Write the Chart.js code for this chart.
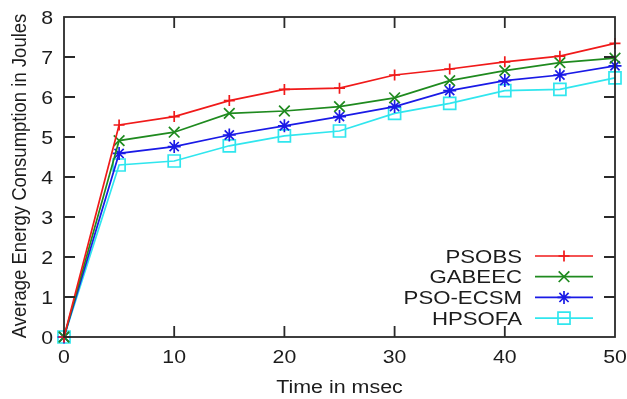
<!DOCTYPE html>
<html>
<head>
<meta charset="utf-8">
<script src="https://cdn.jsdelivr.net/npm/chart.js@4.4.1/dist/chart.umd.min.js"></script>
<style>
  html, body { margin: 0; padding: 0; background: #ffffff; }
  #wrap { width: 627px; height: 399px; }
</style>
</head>
<body>
<div id="wrap"><canvas id="c" width="627" height="399"></canvas></div>
<script>
const timeMs = [0, 5, 10, 15, 20, 25, 30, 35, 40, 45, 50];
const psobs   = [0, 5.30, 5.51, 5.91, 6.19, 6.22, 6.55, 6.70, 6.88, 7.02, 7.34];
const gabeec  = [0, 4.91, 5.12, 5.59, 5.65, 5.76, 5.98, 6.41, 6.66, 6.86, 6.97];
const psoEcsm = [0, 4.59, 4.76, 5.05, 5.28, 5.51, 5.76, 6.16, 6.41, 6.55, 6.78];
const hpsofa  = [0, 4.30, 4.40, 4.78, 5.03, 5.15, 5.59, 5.84, 6.16, 6.19, 6.48];
const seriesNames = ["PSOBS", "GABEEC", "PSO-ECSM", "HPSOFA"];
const xTicks = [0, 10, 20, 30, 40, 50];
const yTicks = [0, 1, 2, 3, 4, 5, 6, 7, 8];
const xTitle = "Time in msec";
const yTitle = "Average Energy Consumption in Joules";

const colors = ["#f01a1a", "#1f8a1f", "#1a1ae6", "#30e6ee"];
const styles = ["cross", "crossRot", "star", "rect"];
const radii  = [5.5, 7.5, 6.5, 8.5];
const values = [psobs, gabeec, psoEcsm, hpsofa];

const FONT = "'Liberation Sans', Arial, sans-serif";
const TEXT = "#1c1c1c";

const datasets = values.map((vals, i) => ({
  label: seriesNames[i],
  data: timeMs.map((t, j) => ({ x: t, y: vals[j] })),
  borderColor: colors[i],
  backgroundColor: "rgba(0,0,0,0)",
  borderWidth: 1.7,
  pointStyle: styles[i],
  pointRadius: radii[i],
  pointBorderWidth: 1.7,
  pointBorderColor: colors[i],
  pointBackgroundColor: "rgba(0,0,0,0)",
  tension: 0,
  clip: false
}));

// draw text centred vertically on cap height, with horizontal stretch sx
function stretchText(ctx, text, x, yc, size, align, sx) {
  ctx.save();
  ctx.font = size + "px " + FONT;
  ctx.textAlign = align;
  ctx.textBaseline = "alphabetic";
  ctx.translate(x, yc + size * 0.716 / 2);
  ctx.scale(sx, 1);
  ctx.fillText(text, 0, 0);
  ctx.restore();
}

const framePlugin = {
  id: "frame",
  afterDraw(chart) {
    const ctx = chart.ctx;
    const ca = chart.chartArea;
    const xs = chart.scales.x, ys = chart.scales.y;
    ctx.save();
    ctx.strokeStyle = "#2a2a2a";
    ctx.lineWidth = 1.8;
    ctx.strokeRect(ca.left, ca.top, ca.right - ca.left, ca.bottom - ca.top);
    const tl = 11;
    ctx.beginPath();
    yTicks.forEach(v => {
      if (v === yTicks[0] || v === yTicks[yTicks.length - 1]) return;
      const y = ys.getPixelForValue(v);
      ctx.moveTo(ca.left, y); ctx.lineTo(ca.left + tl, y);
      ctx.moveTo(ca.right, y); ctx.lineTo(ca.right - tl, y);
    });
    xTicks.forEach(v => {
      if (v === xTicks[0] || v === xTicks[xTicks.length - 1]) return;
      const x = xs.getPixelForValue(v);
      ctx.moveTo(x, ca.bottom); ctx.lineTo(x, ca.bottom - tl);
      ctx.moveTo(x, ca.top); ctx.lineTo(x, ca.top + tl);
    });
    ctx.stroke();

    ctx.fillStyle = TEXT;
    // tick labels
    yTicks.forEach(v => {
      stretchText(ctx, String(v), ca.left - 11, ys.getPixelForValue(v), 18.5, "right", 1.15);
    });
    xTicks.forEach(v => {
      stretchText(ctx, String(v), xs.getPixelForValue(v), ca.bottom + 19.5, 18.5, "center", 1.15);
    });
    // axis titles
    stretchText(ctx, xTitle, (ca.left + ca.right) / 2, 386.5, 18, "center", 1.19);
    ctx.save();
    ctx.font = "18.5px " + FONT;
    ctx.textAlign = "center";
    ctx.textBaseline = "alphabetic";
    ctx.translate(25.5, (ca.top + ca.bottom) / 2 - 1);
    ctx.rotate(-Math.PI / 2);
    ctx.scale(1, 1.12);
    ctx.fillText(yTitle, 0, 0);
    ctx.restore();

    // legend inside plot
    const textRight = 522, lineL = 535, lineR = 593, y0 = 256, dy = 20.7;
    chart.data.datasets.forEach((ds, i) => {
      const y = y0 + i * dy;
      ctx.fillStyle = TEXT;
      stretchText(ctx, ds.label, textRight, y, 18.5, "right", 1.2);
      ctx.strokeStyle = ds.borderColor;
      ctx.lineWidth = ds.borderWidth;
      ctx.beginPath();
      ctx.moveTo(lineL, y); ctx.lineTo(lineR, y);
      ctx.stroke();
      ctx.fillStyle = "rgba(0,0,0,0)";
      Chart.helpers.drawPoint(ctx, {
        pointStyle: ds.pointStyle,
        radius: ds.pointRadius,
        rotation: 0,
        borderWidth: ds.pointBorderWidth
      }, (lineL + lineR) / 2, y);
    });
    ctx.restore();
  }
};

new Chart(document.getElementById("c"), {
  type: "line",
  data: { datasets },
  options: {
    responsive: false,
    animation: false,
    devicePixelRatio: 1,
    layout: { padding: { top: 17, right: 12, left: 0, bottom: 0 } },
    plugins: { legend: { display: false }, tooltip: { enabled: false } },
    scales: {
      x: {
        type: "linear",
        min: 0, max: 50,
        afterBuildTicks(s) { s.ticks = xTicks.map(v => ({ value: v })); },
        afterFit(s) { s.height = 62; },
        grid: { display: false, drawTicks: false },
        border: { display: false },
        ticks: { display: false }
      },
      y: {
        type: "linear",
        min: 0, max: 8,
        afterBuildTicks(s) { s.ticks = yTicks.map(v => ({ value: v })); },
        afterFit(s) { s.width = 64; },
        grid: { display: false, drawTicks: false },
        border: { display: false },
        ticks: { display: false }
      }
    }
  },
  plugins: [framePlugin]
});
</script>
</body>
</html>
